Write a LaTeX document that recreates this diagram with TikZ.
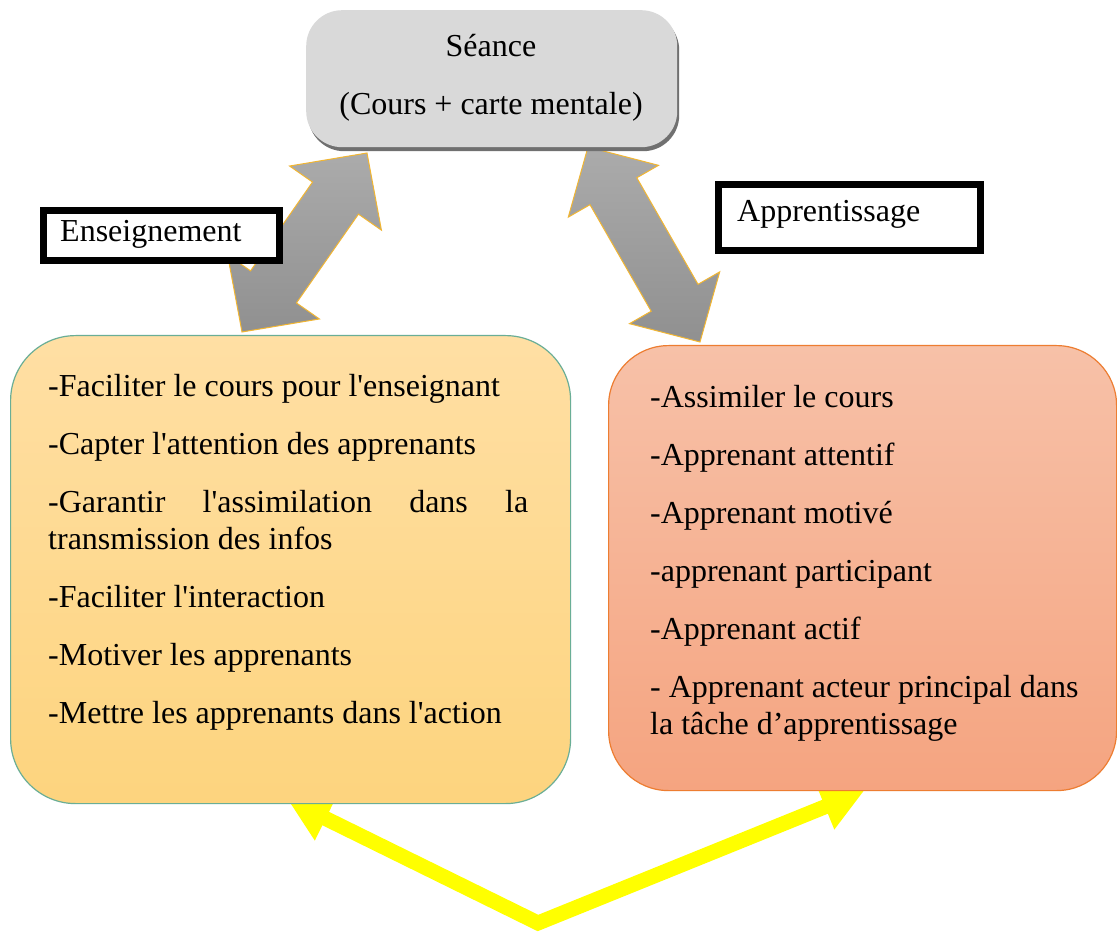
\documentclass[tikz,border=0pt]{standalone}
\usepackage{fontspec}
\usetikzlibrary{calc,shadows,arrows.meta}
\newfontfamily\tnr{Liberation Serif}
\hyphenpenalty=10000
\exhyphenpenalty=10000
\tolerance=10000
\definecolor{seanceFill}{HTML}{D9D9D9}
\definecolor{seanceShadow}{HTML}{707070}
\definecolor{leftTop}{HTML}{FFDFA4}
\definecolor{leftBot}{HTML}{FDD47E}
\definecolor{leftBorder}{HTML}{6AAE96}
\definecolor{rightTop}{HTML}{F7C1A8}
\definecolor{rightBot}{HTML}{F5A480}
\definecolor{rightBorder}{HTML}{ED7D31}
\definecolor{garrTop}{HTML}{ABABAB}
\definecolor{garrBot}{HTML}{909090}
\definecolor{gold}{HTML}{F2B632}
\definecolor{yel}{HTML}{FFFF00}
\newcommand\dblarr[5]{%
  \coordinate (#1h) at ($(#1)!#5!(#2)$);
  \coordinate (#2h) at ($(#2)!#5!(#1)$);
  \path[garr] (#1)
    -- ($(#1h)!#3!90:(#2)$) -- ($(#1h)!#4!90:(#2)$)
    -- ($(#2h)!#4!-90:(#1)$) -- ($(#2h)!#3!-90:(#1)$)
    -- (#2)
    -- ($(#2h)!#3!90:(#1)$) -- ($(#2h)!#4!90:(#1)$)
    -- ($(#1h)!#4!-90:(#2)$) -- ($(#1h)!#3!-90:(#2)$)
    -- cycle;}
\newcommand\bigfont{\tnr\fontsize{32}{37}\selectfont}
\begin{document}
\begin{tikzpicture}[x=1pt,y=-1pt,
  txt/.style={font=\bigfont, inner sep=0pt},
  garr/.style={draw=gold, line width=1pt, top color=garrTop, bottom color=garrBot},
  yarr/.style={draw=yel, line width=15pt, line join=miter,
    {Triangle[length=42pt,width=46pt]}-{Triangle[length=42pt,width=46pt]}},
  seancebox/.style={rounded corners=36pt, fill=seanceFill, inner sep=0pt,
    drop shadow={shadow xshift=2pt, shadow yshift=-4pt, fill=seanceShadow, opacity=1}},
  leftbox/.style={rounded corners=65pt, draw=leftBorder, line width=1.2pt,
    top color=leftTop, bottom color=leftBot, inner sep=0pt},
  rightbox/.style={rounded corners=60pt, draw=rightBorder, line width=1.2pt,
    top color=rightTop, bottom color=rightBot, inner sep=0pt},
  labelbox/.style={draw=black, line width=7pt, fill=white, inner sep=0pt}]
\fill[white] (0,0) rectangle (1117,933);
\useasboundingbox (0,0) rectangle (1117,933);

% yellow double arrow (behind the boxes)
\coordinate (yl) at (288,800);
\coordinate (yv) at (538,923);
\coordinate (yr) at (864,791);
\draw[yarr] (yl) -- (yv) -- (yr);

% grey double arrows
\coordinate (lA) at (242,332);
\coordinate (lB) at (367,153);
\dblarr{lA}{lB}{56pt}{28pt}{55pt}
\coordinate (rA) at (588,147);
\coordinate (rB) at (700,342);
\dblarr{rA}{rB}{52pt}{27pt}{51pt}

% Seance box
\node[seancebox, anchor=north west, minimum width=371pt, minimum height=137pt] (seance) at (306,10) {};
\node[txt, anchor=base] (s1) at (491,57) {Séance};
\node[txt, anchor=base] (s2) at (491,115) {(Cours + carte mentale)};

% left box
\node[leftbox, anchor=north west, minimum width=560pt, minimum height=468pt] (ens) at (10,335) {};
\node[txt, anchor=north west, text width=480pt, align=justify] (enstext) at (48,372)
 {\rule{0pt}{24pt}-Faciliter le cours pour l'enseignant\\[21pt]
  -Capter l'attention des apprenants\\[21pt]
  -Garantir l'assimilation dans la transmission des infos\\[21pt]
  -Faciliter l'interaction\\[21pt]
  -Motiver les apprenants\\[21pt]
  -Mettre les apprenants dans l'action};

% right box
\node[rightbox, anchor=north west, minimum width=508pt, minimum height=445pt] (app) at (608,345) {};
\node[txt, anchor=north west, text width=440pt, align=flush left] (apptext) at (650,383)
 {\rule{0pt}{24pt}-Assimiler le cours\\[21pt]
  -Apprenant attentif\\[21pt]
  -Apprenant motivé\\[21pt]
  -apprenant participant\\[21pt]
  -Apprenant actif\\[21pt]
  - Apprenant acteur principal dans la tâche d’apprentissage};

% label boxes
\node[labelbox, anchor=north west, minimum width=236pt, minimum height=50pt] (ensbox) at (39.5,207.5) {};
\node[txt, anchor=base west] (enslbl) at (60,242) {Enseignement};
\node[labelbox, anchor=north west, minimum width=262pt, minimum height=66pt] (appbox) at (714.5,181.5) {};
\node[txt, anchor=base west] (applbl) at (737,222) {Apprentissage};
\end{tikzpicture}
\end{document}
